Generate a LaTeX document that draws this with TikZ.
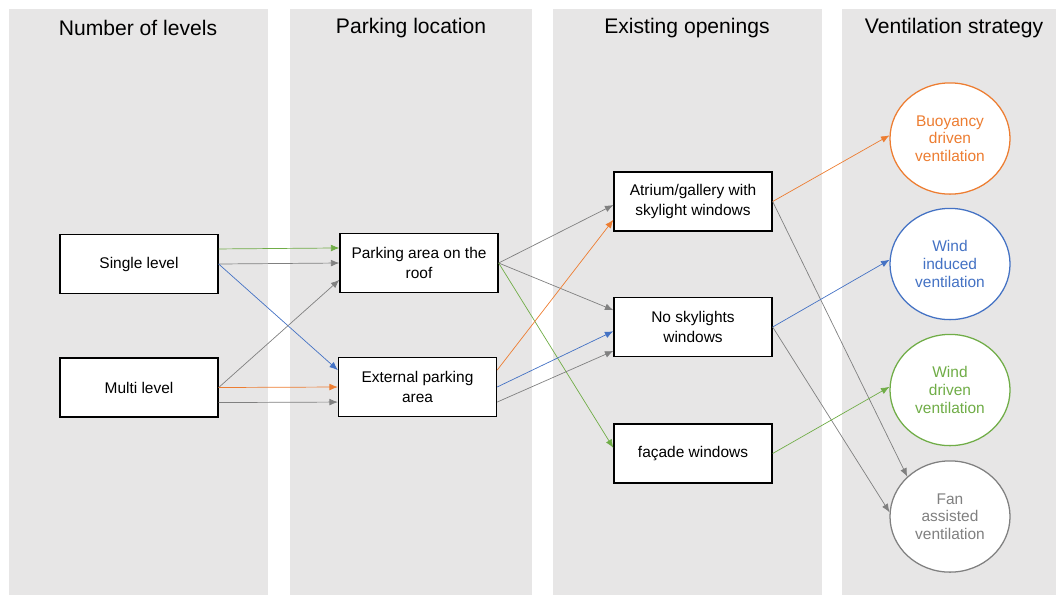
\documentclass[tikz,border=0pt]{standalone}
\usepackage{fontspec}
\setmainfont{Liberation Sans}
\usetikzlibrary{arrows.meta,shapes.geometric}
\definecolor{panelgray}{RGB}{231,230,230}
\definecolor{myorange}{RGB}{237,125,49}
\definecolor{myblue}{RGB}{68,114,196}
\definecolor{mygreen}{RGB}{112,173,71}
\definecolor{mygray}{RGB}{128,128,128}
\begin{document}
\begin{tikzpicture}[x=0.025cm, y=-0.025cm, >={Latex[length=6pt,width=4.8pt]},
  panel/.style={fill=panelgray, draw=none},
  heading/.style={font=\fontsize{15}{18}\selectfont},
  optbox/.style={draw, fill=white, line width=0.9pt, align=center, minimum width=3.95cm, minimum height=1.48cm, inner sep=1pt, font=\fontsize{11}{14}\selectfont},
  strat/.style={ellipse, draw=#1, text=#1, fill=white, line width=0.9pt, align=center, minimum width=3cm, minimum height=2.78cm, inner sep=0pt, font=\fontsize{11}{12.5}\selectfont},
  link/.style={->, line width=0.5pt, draw=#1, color=#1}]
\useasboundingbox (0,0) rectangle (1056,595);
\fill[panel] (9,9) rectangle (268,595);
\fill[panel] (290,9) rectangle (532,595);
\fill[panel] (553,9) rectangle (822,595);
\fill[panel] (842,9) rectangle (1056,595);

\node[heading] (h1) at (138,28) {Number of levels};
\node[heading] (h2) at (411,28) {Parking location};
\node[heading] (h3) at (687,28) {Existing openings};
\node[heading] (h4) at (954,28) {Ventilation strategy};

\node[optbox] (single) at (139,264) {Single level};
\node[optbox] (multi) at (139,387.5) {Multi level};
\node[optbox] (roof) at (419,263) {Parking area on the\\roof};
\node[optbox] (ext) at (417.5,387) {External parking\\area};
\node[optbox] (atrium) at (693,201.5) {Atrium/gallery with\\skylight windows};
\node[optbox] (nosky) at (693,327) {No skylights\\windows};
\node[optbox] (facade) at (693,453.5) {façade windows};

\node[strat=myorange] (buoy) at (950,138.5) {Buoyancy\\driven\\ventilation};
\node[strat=myblue] (windind) at (950,264) {Wind\\induced\\ventilation};
\node[strat=mygreen] (winddrv) at (950,390) {Wind\\driven\\ventilation};
\node[strat=mygray] (fan) at (950,516.5) {Fan\\assisted\\ventilation};

\draw[link=mygreen] ([yshift=10.7pt]single.east) -- ([yshift=10.7pt]roof.west);
\draw[link=mygray] (single.east) -- (roof.west);
\draw[link=myblue] (single.east) -- ([yshift=12pt]ext.west);
\draw[link=mygray] (multi.east) -- ([yshift=-12pt]roof.west);
\draw[link=myorange] (multi.east) -- (ext.west);
\draw[link=mygray] ([yshift=-10.7pt]multi.east) -- ([yshift=-10.7pt]ext.west);

\draw[link=mygray] (roof.east) -- ([yshift=-2.5pt]atrium.west);
\draw[link=mygray] (roof.east) -- ([yshift=12pt]nosky.west);
\draw[link=mygreen] (roof.east) -- ([yshift=4pt]facade.west);
\draw[link=myorange] ([yshift=12pt]ext.east) -- ([yshift=-13pt]atrium.west);
\draw[link=myblue] (ext.east) -- ([yshift=-3pt]nosky.west);
\draw[link=mygray] ([yshift=-10.7pt]ext.east) -- ([yshift=-17pt]nosky.west);

\draw[link=myorange] (atrium.east) -- (buoy.177);
\draw[link=mygray] (atrium.east) -- (fan.137);
\draw[link=myblue] (nosky.east) -- (windind.176);
\draw[link=mygray] (nosky.east) -- (fan.176);
\draw[link=mygreen] (facade.east) -- (winddrv.177);
\end{tikzpicture}
\end{document}
